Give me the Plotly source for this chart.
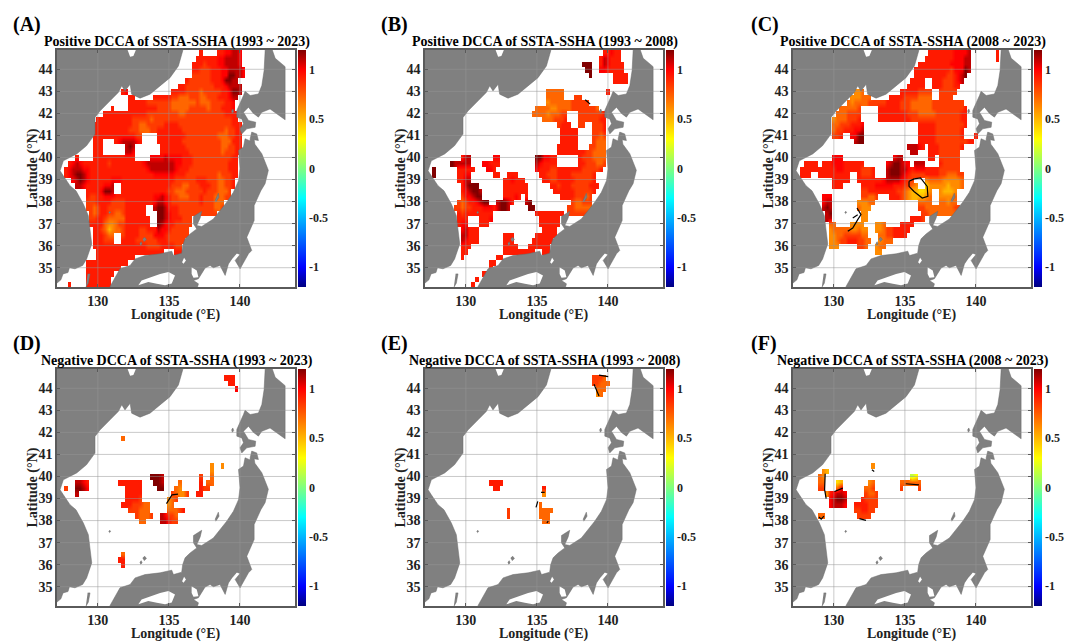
import plotly.graph_objects as go

# ---------- data: DCCA value codes on a 0.25 degree grid, north to south ----------
LEVELS = {"x": 0.15, "y": 0.3, "a": 0.4, "b": 0.5, "c": 0.62, "d": 0.72, "e": 0.84,
          "f": 0.93, "g": 1.0, "h": 1.1, "i": 1.2}
lon_cells = [127.25 + 0.25 * i for i in range(67)]
lat_cells = [34.25 + 0.25 * i for i in range(43)]

panel_a = [
"_ _ _ _ f....ffggh hg", "_ _ _ .........f fffffgghhh hg", "_ _ _ ........ff fefffgghhh hg",
"_ _ _ ........ff eeefffgghh hhg", "_ _ _ ........ee eeefffggii hhg", "_ _ _ ......feee eeefffgiih h",
"_ _ _ ....ffeeee eeeefffghh hh", "_ ........fg _ ..ffffeeee deeeeeffgi ih",
"_ _ ff.....fff ffeedddeee ddeeefffgh h", "_ _ fffffeeeee eeddddddde dddeeeeffg",
"_ .....f.... ffffffffee eedddddeee eedeeefffg", "_ ...fffffff fffffeeeee eeeeddeeee eeeeeeefff ff",
"_ .fffffffff feeeeedeee eeeeeeeeee eeeeeeeeef f", "_ ffffffffff feeddeeeee ffffeeeeee eeeeeeeeef ff",
"_ ffffffffff eeedddeeff fffffeeeee eeeeeeedee ff", "_ ffffffffff ffee....ff ffffffeeee eeeeedddee ff",
"_ fff...fghh hhgf....ff fffffeeeee eeeeeedddf ff", "_ fff......h ih.......f ffffffeeee eeeeeeddee ff",
"_ fff......h hg.......f fffffffeee eeeeeedeee ff", ".....f.... ffffffffff ff....gggg hggggfffee eeeeeeeeef f",
"...fghgfff ffffefffff ffffghhhhh hhhggfffee eeeeeeeeff f", "..fghhhggf ffffffffff fffffghhhh hhhgfffeee eeeeeeeeff f",
"..fghiihgf ffffffffff fffffffggg gggfffeeee eeeeedeeef f", "....ghihgf fffffgggff ffffffffff fffeeeeeef ffeeeddeef",
".....hhgff fffggh..ff ffffffffff ffeeeddeee fffeeddeef", "........ff ffgiih..ff ffffffffff feedddeeee efeeeddde",
"........fe effgggffff fffffffggh gfeedddeee feeedddee", "........ee effffeeeef fffffffghh gfeeeeeeee feeeddd",
"........ee deffeeeeef fffff..hii hfffeeeeee eeeedde", ".........e deffeeddef fffff...ii hgffeeeeee eeeee",
".........e effedddddf ffffff..ii hgfffeee", ".........f fffdccdeef ffffff..ih gffeeeee",
"_ ffedbcddef fffeefffhg gfeeeee", "_ fffedd..ef fffeeeeggg feeeeee", "_ fffeee..ff ffeeeeeeff feeeee",
"_ ffffffffff fffffeeeef fffee", "_ .fffffffff ffffffffff ...ff", "_ .fffffffff ff", "........ff ffffffffff",
"........ff ffffffff", "........ff ffffff", "........ff fffff", "...f....ff fffff",
]
panel_b = [
"_ _ _ _ _ ffgff", "_ _ _ _ .........f hgfff", "_ _ _ _ ....iii..f hgffff", "_ _ _ _ .....ii..g gfffff",
"_ _ _ _ ......i... ...ffff", "_ _ _ _ _ ...ffff", "", "_ _ _ ....ddddd. _ .f", "_ _ _ ....ddddd. ..ee......",
"_ _ _ ....cddddd deeeee", "_ _ _ .ddddccddd deeeeeeed", "_ _ _ ddddcdddee ...eeeeeee ff",
"_ _ _ ...dddeeef ...eeeeeef f", "_ _ _ .......eff f..ee..eee f", "_ _ _ ........ff fff....eee f",
"_ _ _ ........ff fff....eed e", "_ _ _ ........ff fff....edd d", "_ _ _ .......fff fff...eedd d",
"_ _ _ .......fff fffffeeddd d", "_ fhh......g g......... .iiggff... ...feeeddd d",
".......ihh hhh...ggff f......... .hgffff... ...ffeeedd e", "..i......f ffff...ggf _ .gfffeefff ffffeeeeef",
"..i......f fgg......f f..fff.... ..ffeeefff feeeeeef", ".........f fhh....... ..ffgfff.. ...ffeefff ffeeeeef",
"_ fhiii..... ..fffffff. .....ffeff feeeeefff", "_ fghiih.... ..fffffff. ......ffff ffeeeeef",
"_ egghii.... ..fffgf.f. ........ff ffeeede", ".........e deffghii.. hiihf...hi _ .eddeee",
"........ee deefffgggf hiih.....i i......... eeddddd", ".........f effffffff. _ .ffffffff. eeeeee",
".........f ff...fffg. _ ..ffffff", ".........f gg...fff.. _ ..ffffff", "_ ghfff..... _ ...ffff",
"_ hhfff..... ..fff..... .ffffff", "_ hgfff..... ..fff..... ffffff", "_ fff....... ..ffff...f fffff",
"_ ff........ ..ffffffff f..ff", "_ f......... ff", "_ ........ff", "_ ........f", "_ ......ff", "_ ....f", "_ ...f",
]
panel_c = [
"_ _ _ ........ff fffffggggh .......f", "_ _ _ .......fff fffffggghh .......f", "_ _ _ .....fffff ffffgggghh",
"_ _ _ ....ffffff ffffegggih", "_ _ _ ....ffffff fffeefghi", "_ _ _ ...ffff..f ffeeefgh", "_ _ _ ..fffff..f ffeeeff",
"_ .......ccd _ fffffeeee. .eeeee", "_ ......cccd dd.....fff feeeedddd. .eeee",
"_ .....dcddd deeeeeffff eeedddddde eeeeeeee", "_ ...ddddde. ....ffffff eeedddddde eeeeeeeef",
"_ ..dddeeee. ....ffffff ffeeeddddd eeeeeeeff", "_ .cdddeeef. ....ffffff fffeeeeeee eeeeeeeff",
"_ .ddeeefffg _ .....fffff eeeeeeeef", "_ .deefffggh _ .....fffff eeeeeeef",
"_ .eef..ggii _ .....fffff eeeeeeef.. .f", "_ .......hii _ .....fffff eeeeeeeeef f",
"_ _ _ ..hhhgf.ff feeeeeef", "_ _ _ ...hh...ff feeeeee", "_ .ggg...... ........gh h.......ff .eeeeee",
"...ffff.ff fgggffffff ......ghii hgg.hhh... .feeeee", "..ffffffff ffggfffffe eef...hiii hhgfgggfff feeeeee",
"..fff..fff ffffff..fe eef...hiii hgfeeeefff feedddee", "_ .fffff..ff fffffghhhh gfee...cdd ddcccccd",
"_ .fff.....f fffgggggff feedc..acc cccbcccd", "_ .........e effffffffe edcbbaabc. .cbbbc",
"........gg g........e edde...fff edcbbbbcd. .ccccd", "........gh h.......cc cdd....... .....dddd. .ddcdd",
"........hi h.......dc cc........ .....eeddd dddddee", ".........h i........c c......... ......eedd dddddd",
".........h h........c c......... ...fffe", "_ dd....cccc ...ccd.... ffff", "_ cdddddccdc c..ccdeeff fff",
"_ ccddeeeeed d...ddeeff ff", "_ ccdeefffee dd..cddd", "_ ccc.....ee d..cdd", "_ _ ...cc",
"", "", "", "", "", "",
]
panel_d = [
"", "_ _ _ _ .......fff", "_ _ _ _ ........ff", "_ _ _ _ _ g", "", "", "", "", "", "", "", "",
"_ ........d", "", "", "", "", "_ _ _ _ ...c..c", "_ _ _ _ ...c", "_ _ ......iiih _ e..d",
".....hhgf. .......fff ffff...iih ....d..... f.dd", "..e..iihg. .........f ffff....ii ...dc..... fee",
".....h.... .........f ffff...... ..edcce..f f", "_ .........f fffe...... .cde", "_ ........ff feeedd.... .cd",
"_ _ eeeddd.... .dddef", "_ _ ..eddde..h geed", "_ _ ...dd....h hfee", "", "", "", "", "",
"_ ........d", "_ .......ff", "_ ........f", "", "", "", "", "", "", "",
]
panel_e = [
"", "_ _ _ _ .......eee d", "_ _ _ _ .......eed dd", "_ _ _ _ ........dd d", "_ _ _ _ ........cd",
"", "", "", "", "", "", "", "", "", "", "", "", "", "", "",
"_ ........ff ff", "_ .........f f......... ...f", "_ _ _ ...c", "", "_ _ _ ..d",
"_ _ ...e...... ..dddd", "_ _ ...e...... ..ddd", "_ _ _ ...dd", "", "", "", "", "", "", "", "", "", "", "", "", "", "", "",
]
panel_f = [
"", "", "", "", "", "", "", "", "", "", "", "", "", "", "", "", "",
"_ _ ..c", "........cb", ".......dc. _ _ ...xy", ".......dd. ..ab...... .cd....... dddddd",
".......ee. ..dg...... dde....... e....e", ".........c fghhg..... edde", "_ ghiih....f eeee",
"_ ghhhg..fff feee", "_ .......eef fee", ".......dd. ........ee ee",
"", "", "", "", "", "", "", "", "", "", "", "", "", "", "", "",
]
panels = [panel_a, panel_b, panel_c, panel_d, panel_e, panel_f]

titles = ["Positive DCCA of SSTA-SSHA (1993 ~ 2023)", "Positive DCCA of SSTA-SSHA (1993 ~ 2008)",
          "Positive DCCA of SSTA-SSHA (2008 ~ 2023)", "Negative DCCA of SSTA-SSHA (1993 ~ 2023)",
          "Negative DCCA of SSTA-SSHA (1993 ~ 2008)", "Negative DCCA of SSTA-SSHA (2008 ~ 2023)"]
letters = ["(A)", "(B)", "(C)", "(D)", "(E)", "(F)"]
lon_ticks = [130, 135, 140]
lat_ticks = [35, 36, 37, 38, 39, 40, 41, 42, 43, 44]
cbar_ticks = [-1, -0.5, 0, 0.5, 1]
cbar_labels = ["-1", "-0.5", "0", "0.5", "1"]
jet_scale = [[0, "rgb(0,0,128)"], [0.083, "rgb(0,0,255)"], [0.375, "rgb(0,255,255)"],
             [0.625, "rgb(255,255,0)"], [0.917, "rgb(255,0,0)"], [1, "rgb(128,0,0)"]]

# ---------- land outlines, (lon, lat) ----------
asia = [(126.9, 45.2), (136.05, 45.2), (135.97, 44.83), (135.79, 44.45), (135.67, 44.15), (135.08, 43.62),
        (134.26, 43.17), (133.67, 42.87), (132.97, 42.69), (132.38, 42.87), (132.27, 43.32), (131.91, 43.02),
        (131.68, 43.25), (131.44, 42.95), (130.86, 42.57), (130.15, 42.11), (129.8, 41.81), (129.8, 41.06),
        (129.2, 40.53), (128.51, 40.16), (127.57, 39.85), (127.34, 39.4), (127.57, 39.17), (128.04, 38.72),
        (128.46, 38.49), (128.98, 37.89), (129.33, 37.36), (129.45, 36.76), (129.57, 36.08), (129.21, 35.4),
        (128.93, 35.1), (128.39, 34.95), (128.0, 35.0), (127.9, 34.78), (127.55, 34.72), (127.4, 34.45),
        (127.12, 34.3), (126.9, 34.3)]
honshu = [(130.86, 34.0), (130.86, 34.15), (131.56, 34.95), (132.27, 35.1), (132.62, 35.4), (133.32, 35.55),
          (134.38, 35.63), (135.2, 35.75), (135.32, 35.55), (135.9, 35.66), (135.97, 36.0), (136.14, 36.31),
          (136.49, 36.53), (136.96, 36.76), (136.73, 36.99), (136.73, 37.32), (137.31, 37.56), (137.2, 37.26),
          (136.96, 36.91), (137.31, 36.87), (138.13, 37.21), (138.6, 37.59), (139.07, 37.97), (139.54, 38.42),
          (139.9, 38.95), (140.01, 39.49), (139.9, 40.32), (140.25, 40.47), (140.36, 40.85), (140.72, 40.75),
          (140.72, 40.85), (140.83, 41.15), (141.18, 41.07), (141.3, 40.77), (141.0, 40.8), (141.05, 40.6),
          (141.54, 40.17), (142.0, 39.42), (141.77, 38.81), (141.47, 38.49), (141.0, 37.82), (141.0, 37.14),
          (140.48, 36.38), (140.83, 35.78), (140.6, 35.63), (140.01, 34.95), (139.66, 35.33), (140.01, 35.6),
          (139.78, 35.66), (139.43, 35.4), (139.19, 35.17), (138.96, 34.65), (138.6, 35.1), (138.13, 35.0),
          (137.9, 35.1), (137.55, 34.99), (137.08, 34.5), (136.73, 34.42), (137.08, 34.27), (136.96, 34.0)]
hokkaido = [(141.8, 45.2), (141.77, 44.47), (141.7, 43.94), (141.54, 43.26), (141.3, 42.88), (140.72, 42.81),
            (140.36, 43.0), (140.25, 42.81), (140.01, 42.43), (139.78, 42.13), (139.78, 41.83), (140.13, 41.75),
            (140.25, 41.53), (140.01, 41.3), (140.13, 41.07), (140.48, 41.3), (141.07, 41.37), (141.11, 41.6),
            (140.6, 41.68), (140.25, 42.05), (140.6, 42.28), (140.95, 42.0), (141.3, 41.83), (141.54, 42.05),
            (142.12, 42.2), (143.18, 41.71), (143.18, 44.12), (142.48, 44.5), (142.1, 45.2)]
sado = [(138.25, 38.05), (138.48, 38.38), (138.53, 38.2), (138.3, 37.97)]
oki = [(133.15, 36.3), (133.3, 36.38), (133.42, 36.28), (133.25, 36.18)]
oki_small = [(132.95, 36.1), (133.05, 36.18), (133.12, 36.08), (133.0, 36.02)]
ulleung = [(130.76, 37.5), (130.84, 37.56), (130.9, 37.5), (130.82, 37.45)]
tsushima = [(129.28, 34.72), (129.45, 34.72), (129.33, 34.3), (129.15, 34.1)]
okushiri = [(139.4, 42.1), (139.5, 42.2), (139.56, 42.08), (139.45, 42.0)]
land_parts = [asia, honshu, hokkaido, sado, oki, oki_small, ulleung, tsushima, okushiri]

seto_sea = [(133.08, 34.42), (133.67, 34.57), (134.38, 34.72), (134.97, 34.8), (135.43, 34.65), (135.2, 34.28),
            (134.73, 34.2), (134.15, 34.27), (133.55, 34.35), (132.85, 34.2)]
ise_bay = [(136.6, 35.02), (136.96, 34.87), (137.08, 34.57), (136.73, 34.54), (136.6, 34.72)]
wakasa = [(136.07, 35.45), (136.2, 35.33), (136.03, 35.18), (135.93, 35.25)]
khanka = [(132.08, 44.9), (132.69, 44.9), (132.5, 44.6), (132.27, 44.57)]
water_parts = [seto_sea, ise_bay, wakasa, khanka]

# black contour fragments, per panel
contours = [
    [],
    [[(138.4, 42.62), (138.75, 42.42)]],
    [[(135.29, 38.92), (135.65, 39.03), (136.1, 39.07), (136.57, 38.69), (136.62, 38.24), (136.22, 38.16),
      (135.64, 38.46), (135.29, 38.69), (135.29, 38.92)],
     [(131.63, 37.71), (131.91, 37.41), (131.68, 37.18), (131.33, 36.8), (130.98, 36.65)],
     [(131.33, 37.25), (131.68, 37.4)]],
    [[(134.83, 38.77), (135.22, 39.17), (135.64, 39.2)]],
    [[(139.02, 44.18), (139.37, 43.65)], [(139.37, 44.6), (140.02, 44.53)], [(134.94, 38.6), (135.06, 38.87)],
     [(135.29, 39.28), (135.55, 39.28)], [(135.7, 37.9), (135.8, 37.98)]],
    [[(129.39, 40.12), (129.39, 39.78), (129.35, 39.4), (129.46, 39.0)], [(130.05, 39.32), (130.63, 39.47)],
     [(128.95, 38.16), (129.11, 38.06), (129.3, 38.2)], [(131.8, 38.09), (132.26, 38.01)],
     [(135.06, 39.67), (135.99, 39.62)], [(132.68, 40.3), (132.84, 40.23)]],
]


def decode(rows):
    grid = []
    for row in rows:
        chars = "".join("." * 10 if t == "_" else t for t in row.split())
        chars = chars.ljust(len(lon_cells), ".")
        grid.append([LEVELS.get(c) for c in chars])
    return grid[::-1]


def joined(parts):
    xs, ys = [], []
    for part in parts:
        xs += [p[0] for p in part] + [None]
        ys += [p[1] for p in part] + [None]
    return xs, ys


W, H = 1065, 642
lefts = [57, 425, 793]
tops = [50, 369]
pw, ph = 238, 237
title_font = dict(family="Liberation Serif", size=14, color="black")
fig = go.Figure()
ann = []

for k in range(6):
    col, row = k % 3, k // 3
    L, T = lefts[col], tops[row]
    ax = "" if k == 0 else str(k + 1)
    xa, ya = "x" + ax, "y" + ax
    fig.add_trace(go.Heatmap(
        x=lon_cells, y=lat_cells, z=decode(panels[k]), zmin=-1.2, zmax=1.2, colorscale=jet_scale,
        zsmooth="best", hoverongaps=False, xaxis=xa, yaxis=ya,
        colorbar=dict(x=(L + 241) / W, xanchor="left", y=1 - (T + ph) / H, yanchor="bottom", len=ph / H,
                      lenmode="fraction", thickness=8, thicknessmode="pixels", xpad=0, ypad=0, outlinewidth=0,
                      tickvals=cbar_ticks, ticktext=cbar_labels, ticks="", ticklen=0,
                      tickfont=dict(family="Liberation Serif", size=12, color="#222", weight="bold"))))
    lx, ly = joined(land_parts)
    fig.add_trace(go.Scatter(x=lx, y=ly, mode="lines", fill="toself", fillcolor="#808080",
                             line=dict(width=0.5, color="#6a6a6a"), xaxis=xa, yaxis=ya, showlegend=False, hoverinfo="skip"))
    wx, wy = joined(water_parts)
    fig.add_trace(go.Scatter(x=wx, y=wy, mode="lines", fill="toself", fillcolor="white",
                             line=dict(width=0), xaxis=xa, yaxis=ya, showlegend=False, hoverinfo="skip"))
    gx, gy = [], []
    for v in lon_ticks:
        gx += [v, v, None]
        gy += [34, 45, None]
    for v in lat_ticks:
        gx += [127, 144, None]
        gy += [v, v, None]
    fig.add_trace(go.Scatter(x=gx, y=gy, mode="lines", line=dict(width=1, color="rgba(150,150,150,0.5)"),
                             xaxis=xa, yaxis=ya, showlegend=False, hoverinfo="skip"))
    if contours[k]:
        cx, cy = joined(contours[k])
        fig.add_trace(go.Scatter(x=cx, y=cy, mode="lines", line=dict(width=1.2, color="black"),
                                 xaxis=xa, yaxis=ya, showlegend=False, hoverinfo="skip"))
    axis_common = dict(showgrid=False, zeroline=False, showline=True, mirror="ticks", linecolor="#5a5a5a", linewidth=1.5,
                       ticks="inside", ticklen=3, tickwidth=1, tickcolor="#5a5a5a",
                       tickfont=dict(family="Liberation Serif", size=14, color="#222", weight="bold"))
    fig.update_layout({
        "xaxis" + ax: dict(domain=[L / W, (L + pw) / W], range=[127.125, 143.875], tickvals=lon_ticks,
                           anchor=ya, **axis_common),
        "yaxis" + ax: dict(domain=[1 - (T + ph) / H, 1 - T / H], range=[34.125, 44.875], tickvals=lat_ticks,
                           anchor=xa, **axis_common),
    })
    ann.append(dict(text="<b>%s</b>" % titles[k], x=(L + 119.5) / W, y=1 - (T - 8) / H, xref="paper", yref="paper",
                    showarrow=False, xanchor="center", yanchor="middle", font=title_font))
    ann.append(dict(text="<b>%s</b>" % letters[k], x=(L - 46 if col < 2 else L - 44) / W, y=1 - (T - 26) / H, xref="paper",
                    yref="paper", showarrow=False, xanchor="left", yanchor="middle",
                    font=dict(family="Liberation Serif", size=20, color="black")))
    ann.append(dict(text="<b>Longitude (°E)</b>", x=(L + 119) / W, y=1 - (T + ph + 28) / H, xref="paper", yref="paper",
                    showarrow=False, xanchor="center", yanchor="middle", font=dict(family="Liberation Serif", size=14, color="#222")))
    ann.append(dict(text="<b>Latitude (°N)</b>", x=(L - 25) / W, y=1 - (T + ph / 2) / H, xref="paper", yref="paper",
                    showarrow=False, xanchor="center", yanchor="middle", textangle=-90,
                    font=dict(family="Liberation Serif", size=14, color="#222")))

fig.update_layout(width=W, height=H, margin=dict(l=0, r=0, t=0, b=0, autoexpand=False), plot_bgcolor="white",
                  paper_bgcolor="white", showlegend=False, annotations=ann)
fig.write_html("out.html", post_script="document.body.style.margin='0';", config={"displayModeBar": False})
